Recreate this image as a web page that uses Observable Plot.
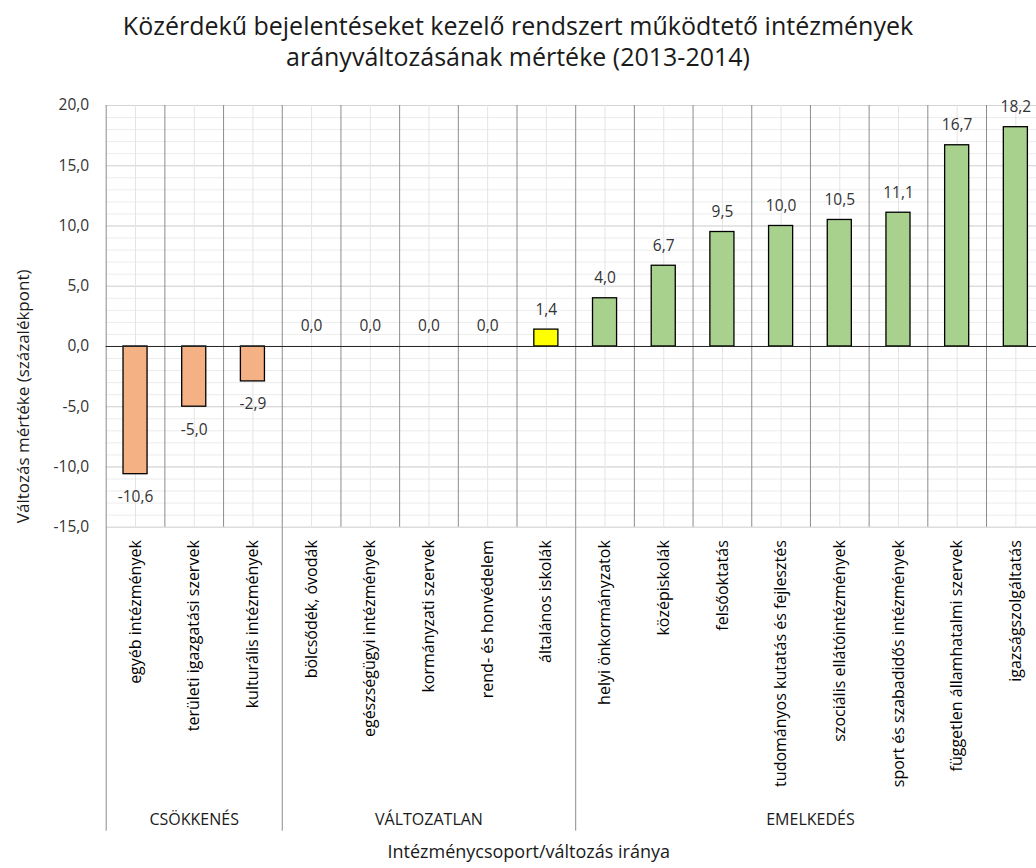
<!DOCTYPE html>
<html>
<head>
<meta charset="utf-8">
<script src="https://cdn.jsdelivr.net/npm/d3@7"></script>
<script src="https://cdn.jsdelivr.net/npm/@observablehq/plot@0.6"></script>
<style>
  html, body { margin: 0; padding: 0; background: #fff; overflow: hidden; }
  #title { width: 1036px; height: 88px; box-sizing: border-box; padding-top: 10px;
    text-align: center; font-family: "Open Sans", sans-serif; font-size: 25px;
    line-height: 31px; color: #1a1a1a; white-space: nowrap; }
  #chart svg { display: block; max-width: none !important; }
</style>
</head>
<body>
<div id="title">Közérdekű bejelentéseket kezelő rendszert működtető intézmények<br>arányváltozásának mértéke (2013-2014)</div>
<div id="chart"></div>
<script>
const categories = [
  "egyéb intézmények",
  "területi igazgatási szervek",
  "kulturális intézmények",
  "bölcsődék, óvodák",
  "egészségügyi intézmények",
  "kormányzati szervek",
  "rend- és honvédelem",
  "általános iskolák",
  "helyi önkormányzatok",
  "középiskolák",
  "felsőoktatás",
  "tudományos kutatás és fejlesztés",
  "szociális ellátóintézmények",
  "sport és szabadidős intézmények",
  "független államhatalmi szervek",
  "igazságszolgáltatás"
];
const values = [-10.6, -5.0, -2.9, 0.0, 0.0, 0.0, 0.0, 1.4, 4.0, 6.7, 9.5, 10.0, 10.5, 11.1, 16.7, 18.2];
const groupNames = ["CSÖKKENÉS", "VÁLTOZATLAN", "EMELKEDÉS"];
const groupSizes = [3, 5, 8];
const groupColors = ["#F4B183", "#FFFF00", "#A9D18E"];
const yTicks = [-15, -10, -5, 0, 5, 10, 15, 20];
const xTitle = "Intézménycsoport/változás iránya";
const yTitle = "Változás mértéke (százalékpont)";

// build tables
const groups = [];
let start = 0;
groupNames.forEach((name, g) => {
  groups.push({name, start, end: start + groupSizes[g], color: groupColors[g]});
  start += groupSizes[g];
});
const data = categories.map((c, i) => {
  const g = groups.find(gr => i >= gr.start && i < gr.end);
  return {i, category: c, value: values[i], group: g.name, color: g.color};
});
const fmt = v => v.toFixed(1).replace(".", ",");
const barHalf = 0.205;
const font = "Open Sans, sans-serif";
const nCat = categories.length;
const boundaries = d3.range(0, nCat + 1);
const groupEdges = [0, ...groups.map(g => g.end)];

const plot = Plot.plot({
  width: 1045,
  height: 780,
  marginLeft: 105.7,
  marginRight: 0.3,
  marginTop: 17,
  marginBottom: 341.3,
  style: {fontFamily: font, background: "#fff", overflow: "visible"},
  x: {type: "linear", domain: [0, nCat], axis: null},
  y: {domain: [-15, 20], axis: null},
  marks: [
    Plot.ruleY(d3.range(-15, 21, 1), {stroke: "#ececec", strokeWidth: 1}),
    Plot.ruleY(yTicks, {stroke: "#d4d4d4", strokeWidth: 1}),
    Plot.ruleX(data, {x: d => d.i + 0.5, stroke: "#e4e4e4", strokeWidth: 1}),
    Plot.ruleX(boundaries, {x: d => d, stroke: "#8c8c8c", strokeWidth: 1}),
    Plot.ruleX(groupEdges, {x: d => d, stroke: "#8c8c8c", strokeWidth: 1, insetTop: 421.7, insetBottom: -304}),
    Plot.rectY(data.filter(d => d.value !== 0), {
      x1: d => d.i + 0.5 - barHalf, x2: d => d.i + 0.5 + barHalf,
      y1: 0, y2: "value", fill: "color", stroke: "#000", strokeWidth: 1.3
    }),
    Plot.ruleY([0], {stroke: "#222", strokeWidth: 1}),
    Plot.axisY(yTicks, {tickSize: 0, tickPadding: 17, tickFormat: fmt, fontSize: 15.5, fill: "#333", label: null}),
    Plot.text(data.filter(d => d.value >= 0), {
      x: d => d.i + 0.5, y: "value", text: d => fmt(d.value), dy: -20, fontSize: 15.5, fill: "#333"
    }),
    Plot.text(data.filter(d => d.value < 0), {
      x: d => d.i + 0.5, y: "value", text: d => fmt(d.value), dy: 23, fontSize: 15.5, fill: "#333"
    }),
    Plot.text(data, {
      x: d => d.i + 0.5, frameAnchor: "bottom", dy: 13, rotate: -90, textAnchor: "end", lineAnchor: "middle",
      text: "category", fontSize: 16, fill: "#000"
    }),
    Plot.text(groups, {
      x: d => (d.start + d.end) / 2, frameAnchor: "bottom", dy: 293, lineAnchor: "middle", textAnchor: "middle",
      text: "name", fontSize: 16, fill: "#1a1a1a"
    }),
    Plot.text([xTitle], {
      frameAnchor: "bottom", dx: -47, dy: 325, lineAnchor: "middle", textAnchor: "middle",
      text: d => d, fontSize: 18, fill: "#1a1a1a"
    }),
    Plot.text([yTitle], {
      frameAnchor: "left", dx: -83, dy: 80, rotate: -90, textAnchor: "middle", lineAnchor: "middle",
      text: d => d, fontSize: 17, fill: "#1a1a1a"
    })
  ]
});
plot.style.maxWidth = "none";
document.getElementById("chart").appendChild(plot);
</script>
</body>
</html>
